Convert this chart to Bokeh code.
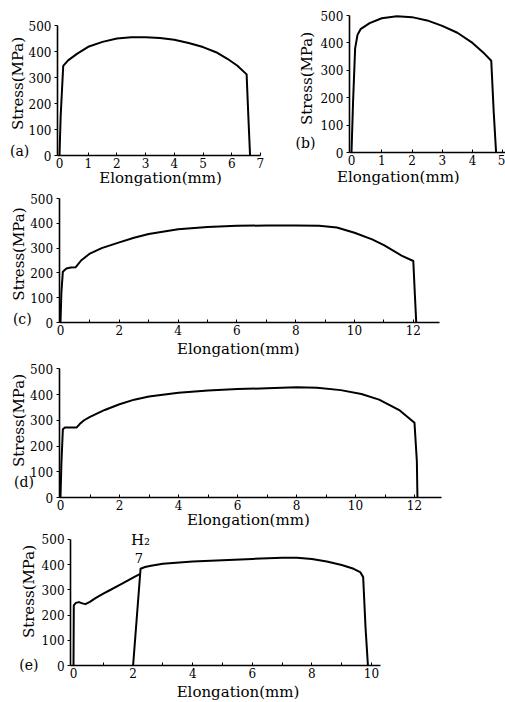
from math import pi
from bokeh.plotting import figure
from bokeh.layouts import column, row
from bokeh.models import Label, FixedTicker, Range1d, LinearAxis
from bokeh.embed import file_html
from bokeh.resources import INLINE

FONT = "DejaVu Serif"

# ---------------- data ----------------
y_ticks = [0, 100, 200, 300, 400, 500]

elong_a = [0, 0.04, 0.13, 0.3, 0.62, 1.0, 1.5, 2.0, 2.5, 3.0, 3.5, 4.0, 4.5, 5.0, 5.5, 5.85, 6.2, 6.52, 6.58, 6.64]
stress_a = [0, 150, 345, 366, 392, 418, 437, 450, 455, 455, 452, 445, 433, 417, 395, 372, 345, 312, 150, 0]

elong_b = [0, 0.05, 0.12, 0.2, 0.3, 0.6, 1.0, 1.5, 2.0, 2.5, 3.0, 3.5, 4.0, 4.4, 4.62, 4.7, 4.78]
stress_b = [0, 180, 380, 430, 450, 472, 490, 497, 494, 482, 462, 437, 400, 360, 335, 150, 0]

elong_c = [0, 0.03, 0.08, 0.2, 0.35, 0.52, 0.7, 1.0, 1.4, 2.0, 2.5, 3.0, 4.0, 5.0, 6.0, 7.0, 8.0, 8.8, 9.4, 10.0, 10.6, 11.0, 11.6, 12.0, 12.05, 12.1]
stress_c = [0, 120, 205, 218, 222, 223, 250, 278, 300, 323, 342, 357, 376, 385, 390, 391, 391, 390, 383, 362, 335, 312, 270, 248, 120, 0]

elong_d = [0, 0.03, 0.08, 0.15, 0.35, 0.55, 0.65, 0.8, 1.0, 1.5, 2.0, 2.5, 3.0, 4.0, 5.0, 6.0, 7.0, 8.0, 8.7, 9.5, 10.2, 10.8, 11.5, 12.0, 12.08, 12.1]
stress_d = [0, 130, 265, 272, 272, 272, 285, 300, 313, 340, 362, 380, 392, 407, 416, 421, 424, 428, 426, 417, 402, 380, 338, 290, 140, 0]

elong_e1 = [0, 0.01, 0.08, 0.18, 0.3, 0.4, 0.55, 0.75, 1.0, 1.2, 1.6, 2.0, 2.22]
stress_e1 = [0, 238, 248, 251, 246, 243, 252, 268, 285, 297, 322, 348, 362]
elong_e2 = [2.0, 2.25, 2.4, 2.6, 3.0, 4.0, 5.0, 6.0, 7.0, 7.5, 8.0, 8.5, 9.0, 9.4, 9.62, 9.72, 9.8, 9.88]
stress_e2 = [0, 383, 390, 395, 403, 412, 417, 422, 427, 427, 422, 412, 398, 383, 370, 350, 150, 0]

xticks_a = [0, 1, 2, 3, 4, 5, 6, 7]
xticks_b = [0, 1, 2, 3, 4, 5]
xticks_cd = [0, 2, 4, 6, 8, 10, 12]
xminor_cd = [1, 3, 5, 7, 9, 11]
xticks_e = [0, 2, 4, 6, 8, 10]
xminor_e = [1, 3, 5, 7, 9]

x_title = "Elongation(mm)"
y_title = "Stress(MPa)"


def make(box, px0, kx, py0, ky, xbounds, xticks, xminor):
    """box = page extent of the figure; (px0, kx), (py0, ky) = pixel origin and pixels per unit."""
    X0, X1, Y0, Y1 = box
    p = figure(width=X1 - X0, height=Y1 - Y0,
               x_range=Range1d((X0 - px0) / kx, (X1 - px0) / kx),
               y_range=Range1d((py0 - Y1) / ky, (py0 - Y0) / ky),
               x_axis_location=None, y_axis_location=None,
               output_backend="svg", toolbar_location=None, min_border=0)
    p.outline_line_color = None
    p.grid.visible = False
    p.background_fill_color = "white"
    p.border_fill_color = "white"
    xa = LinearAxis(fixed_location=0, bounds=xbounds,
                    ticker=FixedTicker(ticks=xticks, minor_ticks=xminor),
                    major_tick_in=3, major_tick_out=0, minor_tick_in=3, minor_tick_out=0,
                    major_label_standoff=2)
    ya = LinearAxis(fixed_location=xbounds[0], bounds=(0, 500),
                    ticker=FixedTicker(ticks=y_ticks, minor_ticks=[]),
                    major_tick_in=0, major_tick_out=3, minor_tick_in=0, minor_tick_out=0,
                    major_label_standoff=3)
    for ax in (xa, ya):
        ax.axis_line_width = 1.6
        ax.axis_line_color = "black"
        ax.major_tick_line_color = "black"
        ax.minor_tick_line_color = "black"
        ax.major_label_text_font = FONT
        ax.major_label_text_font_size = "12px"
        ax.major_label_text_color = "black"
    p.add_layout(xa, "below")
    p.add_layout(ya, "left")
    return p


def txt(p, x, y, text, size="15px", angle=0.0):
    p.add_layout(Label(x=x, y=y, text=text, angle=angle,
                       text_font=FONT, text_font_size=size, text_color="black",
                       text_align="center", text_baseline="middle"))


def titles(p, xt, yt, tag):
    txt(p, xt[0], xt[1], x_title)
    txt(p, yt[0], yt[1], y_title, angle=pi / 2)
    txt(p, tag[0], tag[1], tag[2], size="14px")


LW = 2

pa = make((0, 278, 0, 190), 59, 28.7, 155, 0.26, (-0.07, 7.0), xticks_a, [])
pa.line(elong_a, stress_a, line_width=LW, line_color="black", line_join="round")
titles(pa, (3.52, -88), (-1.46, 277), (-1.39, 19, "(a)"))

pb = make((278, 505, 0, 190), 351, 30.25, 152, 0.274, (-0.07, 5.1), xticks_b, [])
pb.line(elong_b, stress_b, line_width=LW, line_color="black", line_join="round")
titles(pb, (1.55, -91), (-1.46, 270), (-1.52, 33, "(b)"))

pc = make((0, 505, 190, 362), 60, 29.4, 322, 0.248, (-0.05, 12.9), xticks_cd, xminor_cd)
pc.line(elong_c, stress_c, line_width=LW, line_color="black", line_join="round")
titles(pc, (6.05, -105), (-1.42, 276), (-1.3, 15, "(c)"))

pd = make((0, 505, 362, 531), 60, 29.5, 497, 0.2575, (-0.05, 12.9), xticks_cd, xminor_cd)
pd.line(elong_d, stress_d, line_width=LW, line_color="black", line_join="round")
titles(pd, (6.37, -87), (-1.41, 299), (-1.24, 59, "(d)"))

pe = make((0, 505, 531, 702), 73, 29.8, 665, 0.2525, (-0.1, 10.3), xticks_e, xminor_e)
pe.line(elong_e1, stress_e1, line_width=LW, line_color="black", line_join="round")
pe.line(elong_e2, stress_e2, line_width=LW, line_color="black", line_join="round")
titles(pe, (5.52, -104), (-1.5, 293), (-1.5, 3, "(e)"))
txt(pe, 2.25, 499, "H\u2082")
txt(pe, 2.19, 424, "7", size="13px")

layout = column(row(pa, pb), pc, pd, pe)
open("out.html", "w").write(file_html(layout, INLINE))
